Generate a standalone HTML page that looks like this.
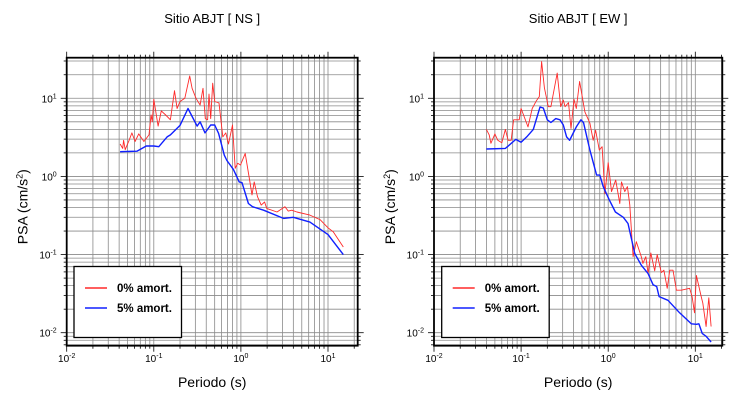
<!DOCTYPE html>
<html><head><meta charset="utf-8"><style>
html,body{margin:0;padding:0;background:#fff}
svg{display:block;font-family:"Liberation Sans",sans-serif}
</style></head><body>
<svg id="chart" width="730" height="400" viewBox="0 0 730 400"></svg>
<script>
// Left panel (NS)
const nsPeriods5 = [0.041,0.064,0.082,0.1,0.114,0.142,0.155,0.2,0.247,0.314,0.34,0.387,0.45,0.5,0.555,0.645,0.69,0.82,0.957,1.03,1.22,1.36,1.82,3.08,4.0,6.2,10,15];
const nsValues5 = [2.07,2.1,2.45,2.45,2.4,3.2,3.4,4.5,7.4,4.4,5.0,3.6,4.55,4.55,3.55,1.87,1.6,1.23,0.85,0.83,0.45,0.41,0.37,0.29,0.3,0.26,0.18,0.1];
const nsPeriods0 = [0.041,0.044,0.045,0.047,0.052,0.056,0.061,0.067,0.077,0.088,0.093,0.096,0.1,0.112,0.122,0.137,0.155,0.173,0.185,0.2,0.227,0.258,0.275,0.305,0.34,0.367,0.39,0.415,0.43,0.45,0.475,0.5,0.56,0.62,0.67,0.72,0.8,0.86,0.92,0.99,1.12,1.26,1.34,1.42,1.55,1.71,1.87,1.98,2.6,3.2,3.5,3.84,4.4,6.2,8.1,10,11.5,15];
const nsValues0 = [2.6,2.28,2.9,2.2,2.9,3.6,2.8,3.5,2.8,3.4,6.1,5.0,9.7,4.4,6.9,6.1,5.3,12.5,7.4,9.1,10,19.3,13.4,10,8.2,13.4,5.5,5.3,11.3,5.5,15.6,9.1,8.7,3.2,3.6,2.6,4.55,1.27,1.47,1.4,1.97,0.9,0.58,0.85,0.55,0.43,0.47,0.39,0.35,0.41,0.36,0.37,0.35,0.32,0.28,0.22,0.195,0.125];
// Right panel (EW)
const ewPeriods5 = [0.04,0.066,0.087,0.1,0.116,0.138,0.165,0.18,0.2,0.22,0.25,0.28,0.305,0.333,0.36,0.43,0.486,0.52,0.617,0.735,0.8,0.877,1.03,1.21,1.49,1.69,2.02,2.4,2.87,3.28,3.6,3.84,4.86,6.6,9,10.3,11,12,13.3,15.2];
const ewValues5 = [2.24,2.28,2.98,2.73,3.2,4.0,7.7,7.5,5.3,4.9,5.5,5.3,4.55,3.2,2.9,4.3,5.3,4.9,2.17,1.04,1.04,0.74,0.5,0.35,0.3,0.25,0.103,0.073,0.057,0.041,0.039,0.029,0.026,0.018,0.013,0.0128,0.013,0.0098,0.009,0.0076];
const ewPeriods0 = [0.04,0.043,0.045,0.05,0.054,0.06,0.066,0.071,0.077,0.082,0.095,0.1,0.12,0.134,0.15,0.162,0.172,0.185,0.205,0.22,0.26,0.285,0.305,0.32,0.35,0.374,0.405,0.43,0.47,0.54,0.617,0.673,0.716,0.79,0.85,0.916,1.0,1.09,1.22,1.36,1.42,1.55,1.66,1.77,1.93,2.1,2.4,2.5,2.7,2.87,3.08,3.42,3.65,4.07,4.36,4.76,5.1,5.55,6.07,6.9,8.6,9.2,9.8,10.3,11.7,12.2,13.3,14.3,15.2];
const ewValues0 = [4.0,3.4,2.65,3.5,2.9,2.7,4.0,2.9,2.9,5.3,5.3,7.4,4.3,7.4,9.3,10.5,29.5,13.6,7.8,7.8,21,7.8,9.5,7.8,8.8,4.1,9.7,7.4,16.4,6.7,4.8,2.9,3.9,2.17,2.4,0.6,1.5,0.64,0.9,0.45,0.85,0.64,0.74,0.43,0.094,0.146,0.094,0.077,0.094,0.057,0.105,0.062,0.1,0.059,0.063,0.037,0.063,0.063,0.035,0.035,0.037,0.029,0.018,0.054,0.029,0.024,0.012,0.028,0.012];
const panelTitles = ["Sitio ABJT [ NS ]","Sitio ABJT [ EW ]"];
const legendLabels = ["0% amort.","5% amort."];
const xTickExps = [-2,-1,0,1];
const yTickExps = [-2,-1,0,1];

const SVGNS="http://www.w3.org/2000/svg";
const svg=document.getElementById('chart');
function mk(tag,attrs,parent){const e=document.createElementNS(SVGNS,tag);for(const k in attrs)e.setAttribute(k,attrs[k]);(parent||svg).appendChild(e);return e;}

const panels=[
 {x0:66.7,x1:357.7,key:'ns',p0:nsPeriods0,v0:nsValues0,p5:nsPeriods5,v5:nsValues5,lgx:74},
 {x0:434,x1:722.3,key:'ew',p0:ewPeriods0,v0:ewValues0,p5:ewPeriods5,v5:ewValues5,lgx:441.7}
];
const plotTop=57.7,plotBot=345.7,dec=87.1,ydec=78.2;
const yLogTop=1+(98.3-plotTop)/ydec, yLogBot=-2-(plotBot-332.7)/ydec;

panels.forEach((P,pi)=>{
 const g=mk('g',{});
 
 
 const xs=v=>P.x0+(Math.log10(v)+2)*dec;
 const ys=v=>plotTop+(yLogTop-Math.log10(v))/(yLogTop-yLogBot)*(plotBot-plotTop);
 const xmax=Math.pow(10,(P.x1-P.x0)/dec-2);
 const grid=mk('g',{stroke:'#8a8a8a','stroke-width':0.8},g);
 
 
 for(let e=-2;e<=1;e++)for(let m=1;m<=9;m++){const v=m*Math.pow(10,e);if(v>xmax)continue;const x=xs(v);
  mk('line',{x1:x,x2:x,y1:plotTop,y2:plotBot},grid);
  mk('line',{x1:x,x2:x,y1:plotBot,y2:plotBot+(m==1?6:3),stroke:'#000'},grid);
  mk('line',{x1:x,x2:x,y1:plotTop,y2:plotTop-(m==1?6:3),stroke:'#000'},grid);}
 for(let e=-3;e<=1;e++)for(let m=1;m<=9;m++){const v=m*Math.pow(10,e);const lv=Math.log10(v);if(lv>yLogTop||lv<yLogBot)continue;const y=ys(v);
  mk('line',{x1:P.x0,x2:P.x1,y1:y,y2:y},grid);
  mk('line',{x1:P.x0,x2:P.x0-(m==1?6:3),y1:y,y2:y,stroke:'#000'},grid);
  mk('line',{x1:P.x1,x2:P.x1+(m==1?6:3),y1:y,y2:y,stroke:'#000'},grid);}
 const line=(ps,vs,col,w,name)=>{const p=mk('polyline',{points:ps.map((t,i)=>xs(t).toFixed(1)+','+ys(vs[i]).toFixed(1)).join(' '),fill:'none',stroke:col,'stroke-width':w,'stroke-linejoin':'round'},g);
  
  };
 line(P.p0,P.v0,'#ff2a2a',0.9,'series-0pct-'+P.key);
 line(P.p5,P.v5,'#1020ff',1.4,'series-5pct-'+P.key);
 const fr=mk('rect',{x:P.x0,y:plotTop,width:P.x1-P.x0,height:plotBot-plotTop,fill:'none',stroke:'#000','stroke-width':1.8},g);
 
 
 xTickExps.forEach(e=>{const t=mk('text',{x:xs(Math.pow(10,e)),y:362,'text-anchor':'middle','font-size':10},g);
  
  
  t.textContent='10';const s=mk('tspan',{dy:-4,'font-size':7},t);s.textContent=String(e);});
 yTickExps.forEach(e=>{const t=mk('text',{x:P.x0-10,y:ys(Math.pow(10,e))+4,'text-anchor':'end','font-size':10},g);
  
  
  t.textContent='10';const s=mk('tspan',{dy:-4,'font-size':7},t);s.textContent=String(e);});
 const cx=(P.x0+P.x1)/2;
 const ti=mk('text',{x:cx,y:23,'text-anchor':'middle','font-size':13},g);
 
 
 ti.textContent=panelTitles[pi];
 const xl=mk('text',{x:cx,y:387,'text-anchor':'middle','font-size':14},g);
 
 
 xl.textContent='Periodo (s)';
 const yx=P.x0-39, yy=(plotTop+plotBot)/2+5;
 const yl=mk('text',{x:yx,y:yy,'text-anchor':'middle','font-size':14,transform:`rotate(-90 ${yx} ${yy})`},g);
 
 
 yl.textContent='PSA (cm/s';const sp=mk('tspan',{dy:-5,'font-size':9},yl);sp.textContent='2';const sp2=mk('tspan',{dy:5},yl);sp2.textContent=')';
 const lg=mk('g',{},g);
 
 
 mk('rect',{x:P.lgx,y:266.5,width:107.5,height:71,fill:'#fff',stroke:'#000','stroke-width':1.3},lg);
 [['#ff2a2a',288],['#1020ff',308]].forEach((c,i)=>{
  mk('line',{x1:P.lgx+11,x2:P.lgx+33,y1:c[1],y2:c[1],stroke:c[0],'stroke-width':1.5},lg);
  const t=mk('text',{x:P.lgx+43,y:c[1]+4,'font-size':11.5,'font-weight':'bold'},lg);
  
  
  t.textContent=legendLabels[i];});
});
</script>
</body></html>
